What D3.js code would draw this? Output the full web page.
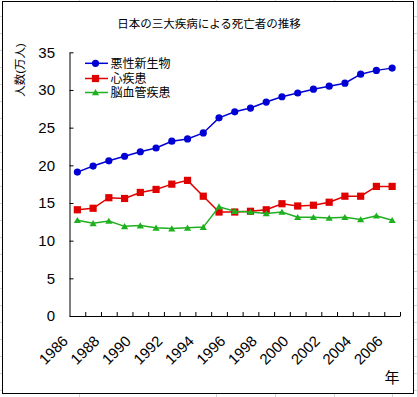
<!DOCTYPE html>
<html>
<head>
<meta charset="utf-8">
<script src="https://cdn.jsdelivr.net/npm/d3@7"></script>
<style>
  body { margin: 0; background: #fff; }
  text { font-family: "Liberation Sans", Arial, "Noto Sans CJK JP", sans-serif; }
</style>
</head>
<body>
<script>
// 年 (1986-2006), 単位: 万人
let years = d3.range(1986, 2007);
let yearLabels = [1986, 1988, 1990, 1992, 1994, 1996, 1998, 2000, 2002, 2004, 2006];
let yTicks = [0, 5, 10, 15, 20, 25, 30, 35];
let seriesNames = ['悪性新生物', '心疾患', '脳血管疾患'];
let cancer = [19.1, 19.9, 20.6, 21.2, 21.8, 22.3, 23.2, 23.5, 24.3, 26.3, 27.1, 27.6, 28.4, 29.1, 29.6, 30.1, 30.5, 30.9, 32.1, 32.6, 32.9];
let heart = [14.1, 14.3, 15.7, 15.6, 16.4, 16.8, 17.5, 18.0, 15.9, 13.8, 13.8, 13.9, 14.1, 14.9, 14.6, 14.7, 15.1, 15.9, 15.9, 17.2, 17.2];
let stroke = [12.7, 12.3, 12.6, 11.9, 12.0, 11.7, 11.6, 11.7, 11.8, 14.5, 13.9, 13.8, 13.6, 13.8, 13.1, 13.1, 13.0, 13.1, 12.8, 13.3, 12.7];

let colors = ['#0000d4', '#e00000', '#1fb01f'];
let shapes = ['circle', 'square', 'triangle'];
let series = [cancer, heart, stroke];

let W = 418, H = 397;
let svg = d3.select('body').append('svg').attr('width', W).attr('height', H);

// spreadsheet grid behind the chart
let grid = svg.append('g').attr('stroke', '#d4d4d4').attr('stroke-width', 1);
[79, 216, 275, 334, 392, 417].forEach(function(gx) {
  grid.append('line').attr('x1', gx + 0.5).attr('x2', gx + 0.5).attr('y1', 0).attr('y2', H);
});
d3.range(16, H, 17).forEach(function(gy) {
  grid.append('line').attr('x1', 0).attr('x2', W).attr('y1', gy + 0.5).attr('y2', gy + 0.5);
});

// chart area
svg.append('rect').attr('x', 2.5).attr('y', 1.5).attr('width', 411).attr('height', 392)
  .attr('fill', '#fff').attr('stroke', '#000').attr('stroke-width', 1);

let plotL = 69.5, plotR = 400, plotT = 52.3, plotB = 316;
let x = d3.scaleBand().domain(years).range([plotL, plotR]).padding(0);
let xi = d3.scaleLinear().domain([0, years.length]).range([plotL, plotR]);
let y = d3.scaleLinear().domain([0, 35]).range([plotB, plotT]);
let cx = function(i) { return x(years[i]) + x.bandwidth() / 2; };

svg.append('text').attr('x', 209).attr('y', 28).attr('text-anchor', 'middle')
  .attr('font-size', '11.5px').text('日本の三大疾病による死亡者の推移');

svg.append('text').attr('transform', 'translate(24,70) rotate(-90)')
  .attr('text-anchor', 'middle').attr('font-size', '11.5px').text('人数(万人)');

// y axis
let yAxis = svg.append('g').attr('transform', 'translate(' + plotL + ',0)')
  .call(d3.axisLeft(y).tickValues(yTicks).tickSize(-4).tickSizeOuter(0).tickPadding(14.5));
yAxis.selectAll('text').attr('font-size', '15px').attr('fill', '#000')
  .style('font-family', '"Liberation Sans", Arial, sans-serif');
yAxis.selectAll('line, path').attr('stroke', '#000');

// x axis
let xAxis = svg.append('g').attr('transform', 'translate(0,' + plotB + ')')
  .call(d3.axisBottom(xi).tickValues(d3.range(1, years.length + 1)).tickSize(-4).tickSizeOuter(0).tickFormat(''));
xAxis.selectAll('line, path').attr('stroke', '#000');

svg.selectAll('.xlab').data(yearLabels).enter().append('text')
  .attr('class', 'xlab')
  .attr('transform', function(d) { return 'translate(' + (cx(years.indexOf(d)) - 8.4) + ',342) rotate(-45)'; })
  .attr('text-anchor', 'end').attr('font-size', '15px').text(function(d) { return d; });

svg.append('text').attr('x', 392).attr('y', 383).attr('text-anchor', 'middle')
  .attr('font-size', '15px').text('年');

function marker(g, shape, color, px, py) {
  if (shape === 'circle') {
    g.append('circle').attr('cx', px).attr('cy', py).attr('r', 3.6).attr('fill', color);
  } else if (shape === 'square') {
    g.append('rect').attr('x', px - 3.6).attr('y', py - 3.6).attr('width', 7.2).attr('height', 7.2).attr('fill', color);
  } else {
    g.append('path').attr('d', 'M' + px + ',' + (py - 3.4) + 'L' + (px + 3.6) + ',' + (py + 2.8) + 'L' + (px - 3.6) + ',' + (py + 2.8) + 'Z')
      .attr('fill', color);
  }
}

let line = d3.line().x(function(d, i) { return cx(i); }).y(function(d) { return y(d); });

series.forEach(function(vals, s) {
  let g = svg.append('g');
  g.append('path').attr('d', line(vals)).attr('fill', 'none')
    .attr('stroke', colors[s]).attr('stroke-width', 1.5);
  vals.forEach(function(v, i) { marker(g, shapes[s], colors[s], cx(i), y(v)); });
});

// legend
let legendY = [63.3, 78.5, 92.5];
seriesNames.forEach(function(name, s) {
  let g = svg.append('g');
  g.append('line').attr('x1', 85).attr('x2', 108).attr('y1', legendY[s]).attr('y2', legendY[s])
    .attr('stroke', colors[s]).attr('stroke-width', 1.5);
  marker(g, shapes[s], colors[s], 95.5, legendY[s]);
  g.append('text').attr('x', 110.5).attr('y', legendY[s]).attr('dy', '0.36em')
    .attr('font-size', '12px').text(name);
});
</script>
</body>
</html>
